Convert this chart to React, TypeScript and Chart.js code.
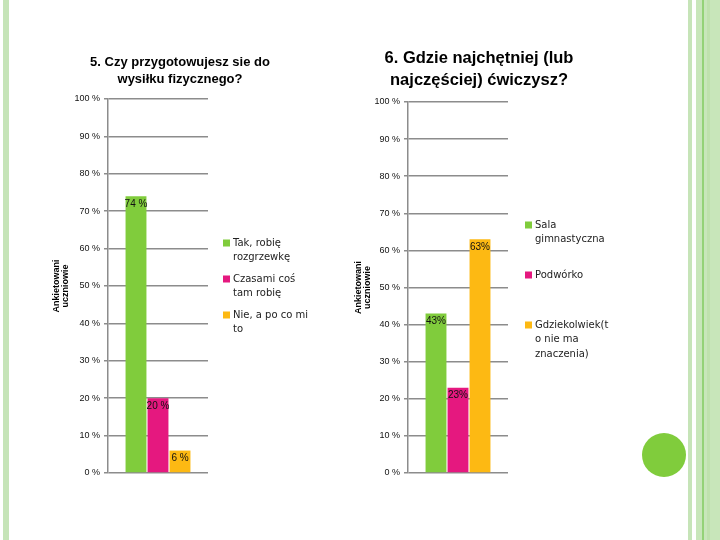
import React, { useEffect, useRef } from 'react';
import { Chart, registerables } from 'chart.js';

Chart.register(...registerables);

// ---------- data ----------
const categories = [''];
const seriesColors = ['#80cc3c', '#e5187f', '#fdb913'];
const axisTitleLines = ['Ankietowani', 'uczniowie'];
const yTickValues = [0, 10, 20, 30, 40, 50, 60, 70, 80, 90, 100];

const title5 = ['5. Czy przygotowujesz sie do', 'wysiłku fizycznego?'];
const series5 = ['Tak, robię rozgrzewkę', 'Czasami coś tam robię', 'Nie, a po co mi to'];
const legend5 = [['Tak, robię', 'rozgrzewkę'], ['Czasami coś', 'tam robię'], ['Nie, a po co mi', 'to']];
const values5 = [74, 20, 6];

const title6 = ['6. Gdzie najchętniej (lub', 'najczęściej) ćwiczysz?'];
const series6 = ['Sala gimnastyczna', 'Podwórko', 'Gdziekolwiek(to nie ma znaczenia)'];
const legend6 = [['Sala', 'gimnastyczna'], ['Podwórko'], ['Gdziekolwiek(t', 'o nie ma', 'znaczenia)']];
const values6 = [43, 23, 63];

const FONT = '"Liberation Sans", Arial, sans-serif';
const LEGEND_FONT = '"DejaVu Sans", sans-serif';

type Cfg = {
  left: number;
  width: number;
  pad: { left: number; right: number; top: number; bottom: number };
  yWidth: number;
  title: string[];
  titleX: number;
  titleY: number[];
  titleSize: number;
  series: string[];
  legend: string[][];
  values: number[];
  suffix: string;
  legendSq: number;
  legendTop: number;
  legendGap: number;
};

function BarChart({ cfg }: { cfg: Cfg }) {
  const ref = useRef<HTMLCanvasElement | null>(null);
  useEffect(() => {
    if (!ref.current) return;
    const labelPlugin = {
      id: 'valueLabels',
      afterDatasetsDraw(chart: any) {
        const ctx = chart.ctx;
        ctx.save();
        ctx.font = `10px ${FONT}`;
        ctx.fillStyle = '#111';
        ctx.textAlign = 'center';
        ctx.textBaseline = 'top';
        chart.data.datasets.forEach((ds: any, i: number) => {
          const meta = chart.getDatasetMeta(i);
          meta.data.forEach((el: any, j: number) => {
            ctx.fillText(`${ds.data[j]}${cfg.suffix}`, el.x, el.y + 3);
          });
        });
        ctx.restore();
      },
    };
    const decoPlugin = {
      id: 'deco',
      afterDraw(chart: any) {
        const ctx = chart.ctx;
        const area = chart.chartArea;
        ctx.save();
        // title
        ctx.font = `bold ${cfg.titleSize}px ${FONT}`;
        ctx.fillStyle = '#000';
        ctx.textAlign = 'center';
        ctx.textBaseline = 'middle';
        cfg.title.forEach((t, i) => ctx.fillText(t, cfg.titleX, cfg.titleY[i]));
        // legend
        ctx.font = `10px ${LEGEND_FONT}`;
        ctx.textAlign = 'left';
        cfg.legend.forEach((lines, i) => {
          const y0 = cfg.legendTop + i * cfg.legendGap;
          ctx.fillStyle = seriesColors[i];
          ctx.fillRect(area.right + cfg.legendSq, y0 - 3.5, 7, 7);
          ctx.fillStyle = '#222';
          lines.forEach((l, j) => ctx.fillText(l, area.right + cfg.legendSq + 10, y0 + j * 14.5));
        });
        ctx.restore();
      },
    };
    const chart = new Chart(ref.current, {
      type: 'bar',
      data: {
        labels: categories,
        datasets: cfg.series.map((s, i) => ({
          label: s,
          data: [cfg.values[i]],
          backgroundColor: seriesColors[i],
          categoryPercentage: 0.66,
          barPercentage: 0.95,
        })),
      },
      options: {
        responsive: false,
        animation: false,
        layout: { padding: cfg.pad },
        plugins: {
          legend: { display: false },
          title: { display: false },
          tooltip: { enabled: false },
        },
        scales: {
          x: { display: false },
          y: {
            min: 0,
            max: 100,
            afterFit: (s: any) => {
              s.width = cfg.yWidth;
            },
            afterBuildTicks: (s: any) => {
              s.ticks = yTickValues.map((v) => ({ value: v }));
            },
            ticks: {
              callback: (v: any) => `${v} %`,
              font: { family: FONT, size: 9 },
              color: '#111',
              padding: 4,
            },
            grid: { color: '#8c8c8c', lineWidth: 1.5, tickLength: 4 },
            border: { color: '#8c8c8c', width: 1.5 },
            title: {
              display: true,
              text: axisTitleLines,
              font: { family: FONT, size: 9, weight: 'bold', lineHeight: 1.0 },
              color: '#000',
              padding: { top: 4, bottom: 0 },
            },
          },
        },
      },
      plugins: [labelPlugin, decoPlugin],
    } as any);
    return () => chart.destroy();
  }, [cfg]);
  return (
    <canvas
      ref={ref}
      width={cfg.width}
      height={540}
      style={{ position: 'absolute', left: cfg.left, top: 0, width: cfg.width, height: 540 }}
    />
  );
}

const cfg5: Cfg = {
  left: 0,
  width: 340,
  pad: { left: 48, right: 132, top: 99, bottom: 67 },
  yWidth: 60,
  title: title5,
  titleX: 180,
  titleY: [62, 79],
  titleSize: 13,
  series: series5,
  legend: legend5,
  values: values5,
  suffix: ' %',
  legendSq: 15,
  legendTop: 243,
  legendGap: 36,
};

const cfg6: Cfg = {
  left: 340,
  width: 300,
  pad: { left: 10, right: 132, top: 102, bottom: 67 },
  yWidth: 58,
  title: title6,
  titleX: 139,
  titleY: [58, 80],
  titleSize: 16.5,
  series: series6,
  legend: legend6,
  values: values6,
  suffix: '%',
  legendSq: 17,
  legendTop: 225,
  legendGap: 50,
};

export default function App() {
  return (
    <div style={{ position: 'fixed', left: 0, top: 0, width: 720, height: 540, background: '#fff', overflow: 'hidden' }}>
      <div style={{ position: 'absolute', left: 3, top: 0, width: 6, height: 540, background: '#c6e4b8' }} />
      <div style={{ position: 'absolute', left: 688, top: 0, width: 4, height: 540, background: '#c6e4b8' }} />
      <div style={{ position: 'absolute', left: 696, top: 0, width: 24, height: 540, background: '#c8e6ba' }} />
      <div style={{ position: 'absolute', left: 702, top: 0, width: 1.5, height: 540, background: '#94d277' }} />
      <div style={{ position: 'absolute', left: 707, top: 0, width: 3, height: 540, background: '#bfe1ad' }} />
      <div style={{ position: 'absolute', left: 642, top: 433, width: 44, height: 44, borderRadius: 22, background: '#80cc3c' }} />
      <BarChart cfg={cfg5} />
      <BarChart cfg={cfg6} />
    </div>
  );
}
